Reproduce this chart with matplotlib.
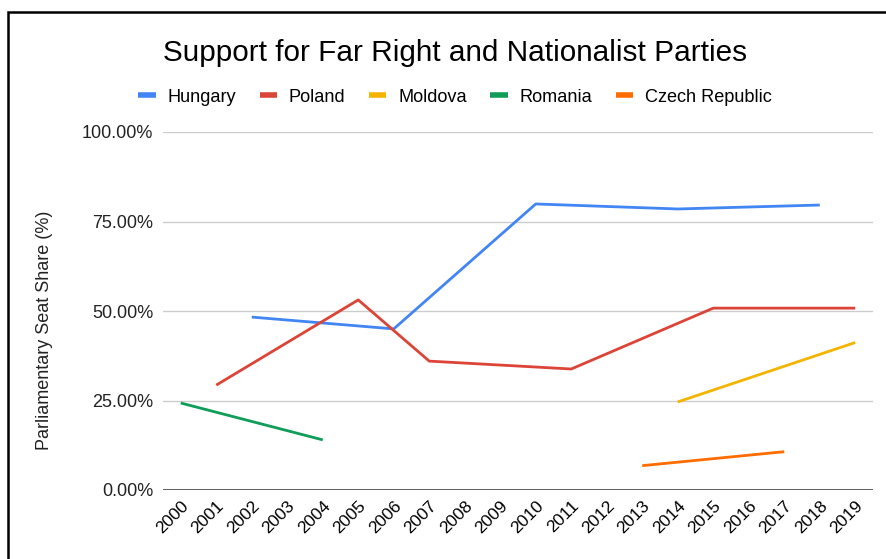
import matplotlib
matplotlib.use("Agg")
import matplotlib.pyplot as plt
import matplotlib.patches as patches
from matplotlib.ticker import PercentFormatter

plt.rcParams['font.family'] = ['Liberation Sans', 'DejaVu Sans']

# seat share (fraction) by election year
years = list(range(2000, 2020))

hungary_years = [2002, 2006, 2010, 2014, 2018]
hungary_vals = [0.483, 0.450, 0.799, 0.785, 0.796]

poland_years = [2001, 2005, 2007, 2011, 2015, 2019]
poland_vals = [0.293, 0.531, 0.360, 0.338, 0.508, 0.508]

moldova_years = [2014, 2019]
moldova_vals = [0.246, 0.412]

romania_years = [2000, 2004]
romania_vals = [0.243, 0.140]

czech_years = [2013, 2017]
czech_vals = [0.068, 0.107]

series = [
    ("Hungary", hungary_years, hungary_vals, "#4285F4"),
    ("Poland", poland_years, poland_vals, "#DB4437"),
    ("Moldova", moldova_years, moldova_vals, "#F4B400"),
    ("Romania", romania_years, romania_vals, "#0F9D58"),
    ("Czech Republic", czech_years, czech_vals, "#FF6D01"),
]

W, H = 887, 559
fig = plt.figure(figsize=(W / 100, H / 100), dpi=100)
ax = fig.add_axes([163 / W, 1 - 490 / H, (873 - 163) / W, (490 - 132) / H])

for name, xs, ys, col in series:
    ax.plot(xs, ys, color=col, lw=2.0, label=name, solid_capstyle='butt')

ax.set_xlim(1999.5, 2019.5)
ax.set_ylim(0, 1)
ax.set_yticks([0, 0.25, 0.5, 0.75, 1.0])
ax.yaxis.set_major_formatter(PercentFormatter(1.0, decimals=2))
ax.set_xticks(years)
ax.set_xticklabels([str(y) for y in years], rotation=45, ha='right',
                   rotation_mode='anchor', fontsize=12.5)
ax.tick_params(axis='x', length=0, pad=6)
ax.tick_params(axis='y', length=0, pad=7, labelsize=13, labelcolor='#222222')
for s in ax.spines.values():
    s.set_visible(False)
ax.grid(axis='y', color='#cccccc', lw=1)
ax.axhline(0, color='#555555', lw=1.3)
ax.set_axisbelow(True)

fig.text(455 / W, 1 - 53 / H, "Support for Far Right and Nationalist Parties",
         ha='center', va='center', fontsize=21.4, color='#000000')
fig.text(45 / W, 1 - 330 / H, "Parliamentary Seat Share (%)", rotation=90,
         ha='center', va='center', fontsize=13, color='#222222')

handles, labels = ax.get_legend_handles_labels()
leg = fig.legend(handles, labels, loc='center', ncol=5,
                 bbox_to_anchor=(455 / W, 1 - 97 / H), frameon=False,
                 fontsize=13.1, handlelength=0.95, handletextpad=0.65,
                 columnspacing=1.3)
for line in leg.get_lines():
    line.set_linewidth(4)

# black frame at the top-left edge
frame = patches.Rectangle((8 / W, -0.1), 2, 1.1 - 12 / H, transform=fig.transFigure,
                          fill=False, ec='black', lw=1.8)
fig.patches.append(frame)

fig.savefig("out.png", dpi=100)
